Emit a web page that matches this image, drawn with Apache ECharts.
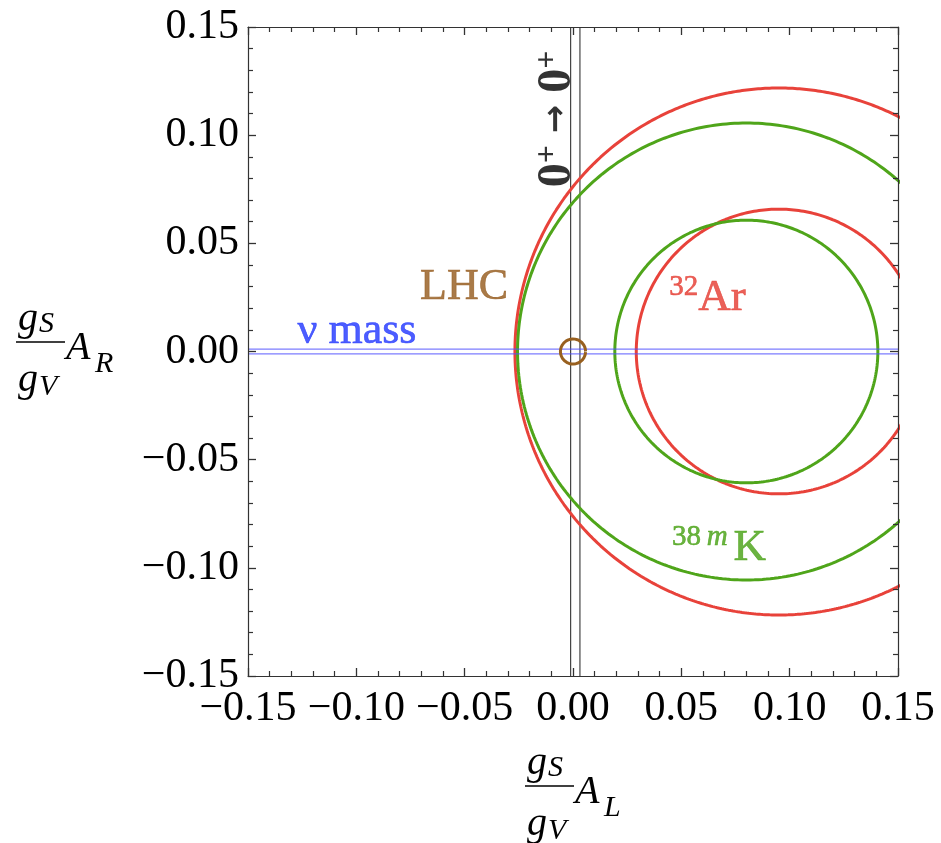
<!DOCTYPE html>
<html>
<head>
<meta charset="utf-8">
<script src="https://cdn.jsdelivr.net/npm/echarts@6/dist/echarts.min.js"></script>
<style>
html,body{margin:0;padding:0;background:#fff;}
#chart{width:941px;height:843px;}
</style>
</head>
<body>
<div id="chart"></div>
<script>
// ---- data ----
const axisMin = -0.15;
const axisMax = 0.15;
const tickStep = 0.05;

// exclusion contours (circles) : nuclide, centre (x,y), radius
const circleNuclide = ['32Ar', '32Ar', '38mK', '38mK'];
const circleCenterX = [0.095, 0.095, 0.080, 0.080];
const circleCenterY = [0.0, 0.0, 0.0, 0.0];
const circleRadius  = [0.1218, 0.0658, 0.1056, 0.0607];

// LHC bound (small circle)
const lhcCenter = [0.0, 0.0];
const lhcRadius = 0.0058;

// 0+ -> 0+ band (vertical lines) and neutrino-mass band (horizontal lines)
const superallowedX = [-0.0011, 0.0032];
const nuMassY = [-0.0011, 0.0011];

// annotation labels: text and anchor point in data coordinates
const labelNames = ['LHC', 'nu mass', '32Ar', '38mK', '0+ -> 0+'];
const labelX = [-0.0503, -0.0997, 0.0621, 0.0674, -0.0072];
const labelY = [0.0298, 0.0095, 0.0247, -0.0908, 0.1075];

// ---- styling ----
const colors = { '32Ar': '#e8423a', '38mK': '#4fa51a' };
const textColors = { '32Ar': '#e5392f', '38mK': '#46a012' };
const serif = '"Liberation Serif", "DejaVu Serif", serif';
const frameColor = '#333';

function circlePoints(cx, cy, r) {
  const pts = [];
  const n = 720;
  for (let i = 0; i <= n; i++) {
    const t = 2 * Math.PI * i / n;
    pts.push([cx + r * Math.cos(t), cy + r * Math.sin(t)]);
  }
  return pts;
}

function fmt(v) {
  if (Math.abs(v) < 1e-9) return '0.00';
  const s = Math.abs(v).toFixed(2);
  return v < 0 ? '\u2212' + s : s;
}

function makeAxis(dim, pos, showLabels) {
  return {
    type: 'value',
    position: pos,
    min: axisMin, max: axisMax, interval: tickStep,
    axisLine: { show: true, onZero: false, lineStyle: { color: frameColor, width: 1.2 } },
    axisTick: { show: true, inside: true, length: 8, lineStyle: { color: frameColor, width: 1.3 } },
    minorTick: { show: true, splitNumber: 5, length: 5, lineStyle: { color: frameColor, width: 1.2 } },
    splitLine: { show: false },
    minorSplitLine: { show: false },
    axisLabel: {
      show: showLabels,
      inside: false,
      formatter: fmt,
      fontFamily: serif, fontSize: 42, color: '#000',
      margin: dim === 'x' ? 12 : 9
    },
    z: 10
  };
}

const series = [];

// vertical 0+ -> 0+ lines
superallowedX.forEach(function (x) {
  series.push({
    type: 'line', xAxisIndex: 0, yAxisIndex: 0,
    data: [[x, axisMin], [x, axisMax]],
    showSymbol: false, silent: true,
    lineStyle: { color: '#444', width: 1.2 }
  });
});

// circles
for (let i = 0; i < circleRadius.length; i++) {
  series.push({
    type: 'line', xAxisIndex: 0, yAxisIndex: 0,
    data: circlePoints(circleCenterX[i], circleCenterY[i], circleRadius[i]),
    showSymbol: false, silent: true, clip: true,
    lineStyle: { color: colors[circleNuclide[i]], width: 3 }
  });
}

// neutrino mass band lines
nuMassY.forEach(function (y) {
  series.push({
    type: 'line', xAxisIndex: 0, yAxisIndex: 0,
    data: [[axisMin, y], [axisMax, y]],
    showSymbol: false, silent: true,
    lineStyle: { color: 'rgba(80,80,255,0.75)', width: 1.4 }
  });
});

// LHC circle
series.push({
  type: 'line', xAxisIndex: 0, yAxisIndex: 0,
  data: circlePoints(lhcCenter[0], lhcCenter[1], lhcRadius),
  showSymbol: false, silent: true,
  lineStyle: { color: '#98601f', width: 3 }
});

function bold(c) { return { textBorderColor: c, textBorderWidth: 0.6 }; }

// annotation labels
const labelStyles = {
  'LHC': Object.assign({ formatter: 'LHC', color: '#93591a', fontSize: 44, fontFamily: serif }, bold('#93591a')),
  'nu mass': Object.assign({ formatter: '\u03bd mass', color: '#1f35ff', fontSize: 44, fontFamily: serif }, bold('#1f35ff')),
  '32Ar': {
    formatter: '{sup|32}{big|Ar}',
    rich: {
      sup: Object.assign({ fontSize: 29, fontFamily: serif, color: textColors['32Ar'], verticalAlign: 'top', lineHeight: 22 }, bold(textColors['32Ar'])),
      big: Object.assign({ fontSize: 45, fontFamily: serif, color: textColors['32Ar'], lineHeight: 50 }, bold(textColors['32Ar']))
    }
  },
  '38mK': {
    formatter: '{sup|38\u2009}{supi|m\u2009}{big|K}',
    rich: {
      sup: Object.assign({ fontSize: 29, fontFamily: serif, color: textColors['38mK'], verticalAlign: 'top', lineHeight: 22 }, bold(textColors['38mK'])),
      supi: Object.assign({ fontSize: 29, fontFamily: serif, fontStyle: 'italic', color: textColors['38mK'], verticalAlign: 'top', lineHeight: 22 }, bold(textColors['38mK'])),
      big: Object.assign({ fontSize: 45, fontFamily: serif, color: textColors['38mK'], lineHeight: 50 }, bold(textColors['38mK']))
    }
  },
  '0+ -> 0+': {
    formatter: '{z|0}{p|+}{a| \u2192 }{z|0}{p|+}',
    rotate: 90,
    rich: {
      z: { fontSize: 48, fontWeight: 'bold', fontFamily: serif, color: '#000', lineHeight: 52 },
      a: { fontSize: 34, fontWeight: 'bold', fontFamily: '"DejaVu Sans", sans-serif', color: '#000', lineHeight: 52 },
      p: { fontSize: 32, fontWeight: 'bold', fontFamily: serif, color: '#000', verticalAlign: 'top', lineHeight: 24 }
    }
  }
};

series.push({
  type: 'scatter', xAxisIndex: 0, yAxisIndex: 0,
  symbolSize: 0, silent: true,
  data: labelNames.map(function (n, i) {
    const st = labelStyles[n];
    return {
      value: [labelX[i], labelY[i]],
      label: Object.assign({ show: true, position: 'inside' }, st)
    };
  })
});

// axis titles: g_S/g_V A_R and g_S/g_V A_L drawn as stacked text
function fractionTitle(ox, oy, sub) {
  const bigFs = 40, smallFs = 30;
  const big = 'italic ' + bigFs + 'px ' + serif;
  const small = 'italic ' + smallFs + 'px ' + serif;
  function t(txt, x, baseline, font, fs) {
    return { type: 'text', silent: true, style: { text: txt, x: x, y: baseline - 0.305 * fs, font: font, fill: '#000', align: 'left', verticalAlign: 'middle' } };
  }
  return {
    type: 'group', x: ox, y: oy, silent: true,
    children: [
      t('g', 18, 332, big, bigFs),
      t('S', 39, 333, small, smallFs),
      { type: 'line', shape: { x1: 16, y1: 342, x2: 65, y2: 342 }, style: { stroke: '#000', lineWidth: 1.6 } },
      t('g', 18, 393, big, bigFs),
      t('V', 39, 396, small, smallFs),
      t('A', 66, 361, big, bigFs),
      t(sub, 95, 373, small, smallFs)
    ]
  };
}

const option = {
  animation: false,
  backgroundColor: '#fff',
  grid: { left: 248, top: 27, width: 650, height: 649, containLabel: false },
  xAxis: [makeAxis('x', 'bottom', true), makeAxis('x', 'top', false)],
  yAxis: [makeAxis('y', 'left', true), makeAxis('y', 'right', false)],
  series: series,
  graphic: [fractionTitle(0, 0, 'R'), fractionTitle(509, 444, 'L')]
};

const chart = echarts.init(document.getElementById('chart'), null, { renderer: 'canvas' });
chart.setOption(option);
</script>
</body>
</html>
